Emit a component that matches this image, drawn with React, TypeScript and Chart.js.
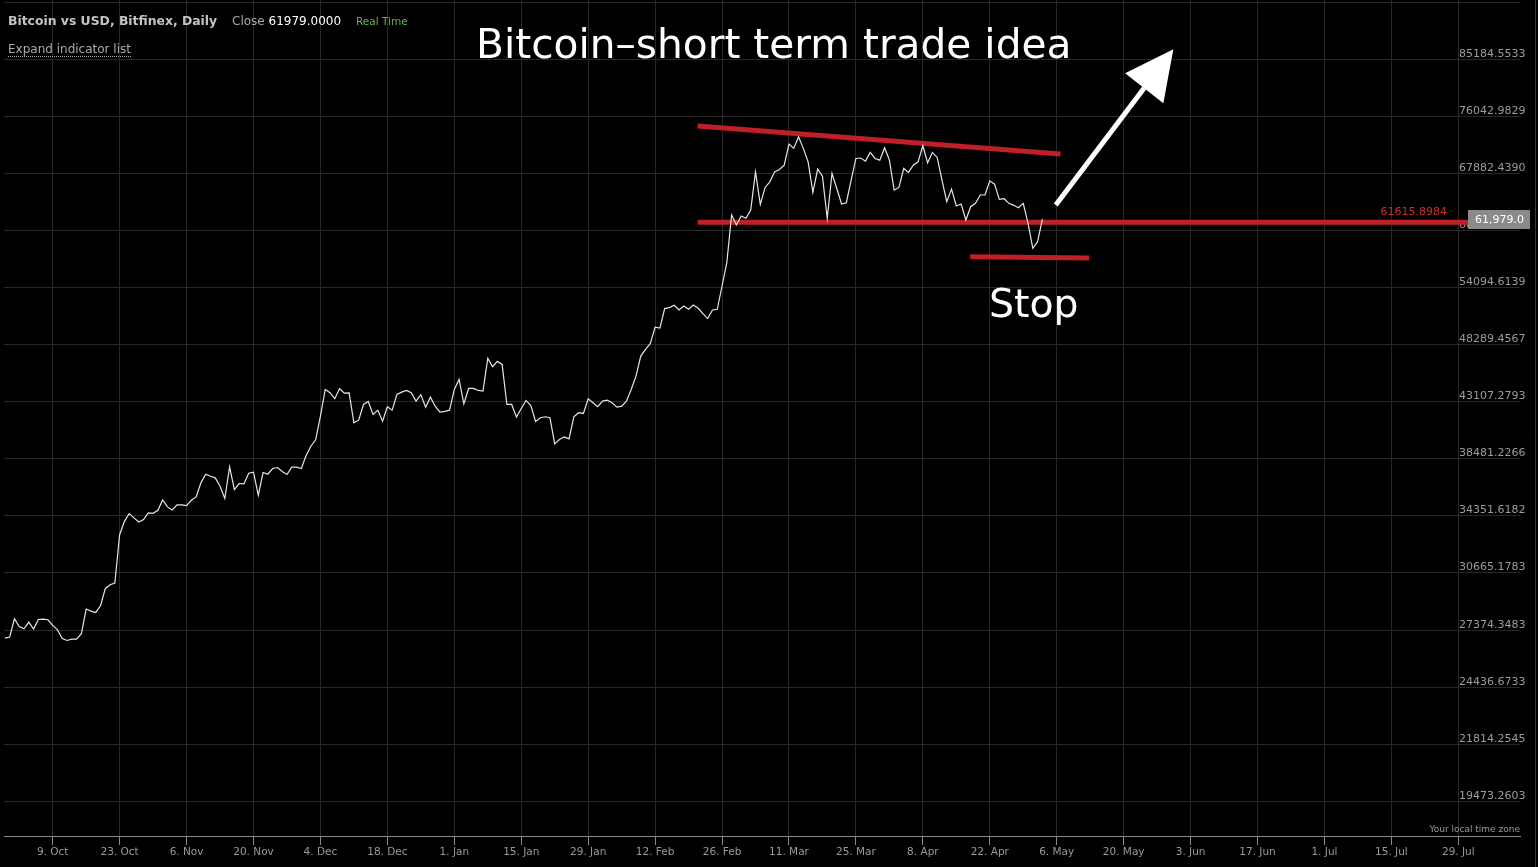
import React, { useEffect, useRef } from 'react';
import { Chart, registerables } from 'chart.js';

Chart.register(...registerables);

// ---- DATA -----------------------------------------------------------
// Bitcoin vs USD (Bitfinex) daily closes, first close on 29 Sep 2023
const startDate = '2023-09-29';
const closes: number[] = [
  26942, 26995, 27996, 27571, 27445, 27813, 27428, 27957, 27979, 27941,
  27626, 27390, 26920, 26814, 26888, 26888, 27173, 28542, 28428, 28349,
  28730, 29722, 29960, 30061, 33092, 33984, 34508, 34214, 33943, 34098,
  34556, 34529, 34736, 35462, 34971, 34764, 35111, 35111, 35061, 35434,
  35674, 36686, 37320, 37172, 37054, 36440, 35558, 37874, 36203, 36637,
  36615, 37394, 37469, 35792, 37447, 37320, 37746, 37821, 37521, 37298,
  37845, 37845, 37746, 38734, 39458, 39963, 41890, 44174, 43886, 43366,
  44236, 43851, 43880, 41343, 41558, 42876, 43133, 42032, 42393, 41475,
  42680, 42393, 43737, 43938, 44087, 43880, 43159, 43711, 42647, 43503,
  42731, 42225, 42284, 42393, 44174, 45063, 42935, 44263, 44263, 44087,
  44028, 46991, 46222, 46712, 46434, 42876, 42876, 41807, 42536, 43219,
  42790, 41451, 41757, 41840, 41757, 39646, 39987, 40202, 40042, 41840,
  42174, 42115, 43366, 43021, 42680, 43159, 43245, 43021, 42647, 42731,
  43159, 44174, 45365, 47206, 47840, 48415, 50009, 49910, 51880, 51985,
  52223, 51737, 52150, 51809, 52254, 51913, 51369, 50860, 51737, 51809,
  54267, 56851, 62495, 61265, 62371, 62086, 63120, 68100, 63840, 66018,
  66757, 68099, 68423, 69012, 71969, 71356, 73019, 71356, 69467, 65364,
  68468, 67518, 62086, 67882, 65887, 63876, 64042, 66983, 69937, 70000,
  69563, 70777, 69937, 69702, 71439, 69702, 65665, 66018, 68562, 68017,
  69012, 69467, 71725, 69329, 70777, 70077, 66983, 64171, 65796, 63624,
  63876, 61877, 63535, 63966, 65032, 65032, 66890, 66452, 64476, 64553,
  63966, 63711, 63409, 63966, 61472, 58490, 59263, 61979,
];

const xTickDates = [
  '2023-10-09', '2023-10-23', '2023-11-06', '2023-11-20', '2023-12-04', '2023-12-18',
  '2024-01-01', '2024-01-15', '2024-01-29', '2024-02-12', '2024-02-26', '2024-03-11',
  '2024-03-25', '2024-04-08', '2024-04-22', '2024-05-06', '2024-05-20', '2024-06-03',
  '2024-06-17', '2024-07-01', '2024-07-15', '2024-07-29',
];
const xTickLabels = [
  '9. Oct', '23. Oct', '6. Nov', '20. Nov', '4. Dec', '18. Dec', '1. Jan', '15. Jan',
  '29. Jan', '12. Feb', '26. Feb', '11. Mar', '25. Mar', '8. Apr', '22. Apr', '6. May',
  '20. May', '3. Jun', '17. Jun', '1. Jul', '15. Jul', '29. Jul',
];

const yTickValues = [
  95425.59, 85184.5533, 76042.9829, 67882.439, 60597.6415, 54094.6139, 48289.4567,
  43107.2793, 38481.2266, 34351.6182, 30665.1783, 27374.3483, 24436.6733, 21814.2545,
  19473.2603,
];
const yTickLabels = [
  '', '85184.5533', '76042.9829', '67882.4390', '60597.6415', '54094.6139', '48289.4567',
  '43107.2793', '38481.2266', '34351.6182', '30665.1783', '27374.3483', '24436.6733',
  '21814.2545', '19473.2603',
];

const lastClose = 61979.0;
const supportLevel = 61615.8984;

// drawn annotations, in (days since startDate, price)
const supportSpan = [144.9, 306.0];
const resistanceLine = [
  { x: 144.9, y: 74600 },
  { x: 220.8, y: 70560 },
];
const stopLine = [
  { x: 201.9, y: 57520 },
  { x: 226.8, y: 57370 },
];
const arrowShaft = [
  { x: 219.8, y: 63750 },
  { x: 238.3, y: 80460 },
];
const arrowHead = [
  { x: 234.3, y: 82845 },
  { x: 244.4, y: 86900 },
  { x: 242.3, y: 78050 },
];

// ---------------------------------------------------------------------
const DAY = 86400000;
const dayOf = (iso: string) =>
  Math.round((Date.parse(iso + 'T00:00:00Z') - Date.parse(startDate + 'T00:00:00Z')) / DAY);
const xTickDays = xTickDates.map(dayOf);

const FONT = '"DejaVu Sans", "Noto Sans", sans-serif';
const RED = '#bf1f26';

const overlayPlugin = {
  id: 'overlay',
  beforeDatasetsDraw(chart: any) {
    const { ctx, scales } = chart;
    const y = scales.y;
    ctx.save();
    ctx.font = `11px ${FONT}`;
    ctx.fillStyle = '#9c9c9c';
    ctx.textAlign = 'left';
    ctx.textBaseline = 'alphabetic';
    yTickValues.forEach((v, i) => {
      const label = yTickLabels[i];
      if (!label) return;
      ctx.fillText(label, 1459, y.getPixelForValue(v) - 2.5);
    });
    ctx.restore();
  },
  afterDatasetsDraw(chart: any) {
    const { ctx, scales } = chart;
    const x = scales.x;
    const y = scales.y;
    ctx.save();
    // arrow head
    ctx.fillStyle = '#ffffff';
    ctx.beginPath();
    arrowHead.forEach((p, i) => {
      const px = x.getPixelForValue(p.x);
      const py = y.getPixelForValue(p.y);
      if (i === 0) ctx.moveTo(px, py);
      else ctx.lineTo(px, py);
    });
    ctx.closePath();
    ctx.fill();

    // support level label
    const sy = y.getPixelForValue(supportLevel);
    ctx.font = `11px ${FONT}`;
    ctx.fillStyle = '#d02a30';
    ctx.textAlign = 'right';
    ctx.textBaseline = 'alphabetic';
    ctx.fillText(supportLevel.toFixed(4), 1447, sy - 6.7);

    // last price tag
    const ly = y.getPixelForValue(lastClose);
    ctx.fillStyle = '#8a8a8a';
    ctx.fillRect(1468, Math.round(ly - 9.5), 62, 19);
    ctx.fillStyle = '#ffffff';
    ctx.textAlign = 'left';
    ctx.font = `11px ${FONT}`;
    ctx.fillText(
      lastClose.toLocaleString('en-US', { minimumFractionDigits: 1, maximumFractionDigits: 1 }),
      1475,
      ly + 3.8
    );

    // right frame line
    ctx.strokeStyle = '#3a3a3a';
    ctx.lineWidth = 1;
    ctx.beginPath();
    ctx.moveTo(1535.5, 0);
    ctx.lineTo(1535.5, 867);
    ctx.stroke();
    ctx.restore();
  },
};

export default function App() {
  const ref = useRef<HTMLCanvasElement | null>(null);

  useEffect(() => {
    if (!ref.current) return;
    const lineCommon = {
      pointRadius: 0,
      pointHoverRadius: 0,
      fill: false,
      tension: 0,
      borderCapStyle: 'butt' as const,
    };
    const chart = new Chart(ref.current, {
      type: 'line',
      data: {
        datasets: [
          {
            label: 'Close',
            data: closes.map((c, i) => ({ x: i, y: c })),
            borderColor: '#e6e6e6',
            borderWidth: 1.2,
            ...lineCommon,
          },
          {
            label: 'Resistance',
            data: resistanceLine,
            borderColor: RED,
            borderWidth: 5,
            ...lineCommon,
          },
          {
            label: 'Support',
            data: [
              { x: supportSpan[0], y: supportLevel },
              { x: supportSpan[1], y: supportLevel },
            ],
            borderColor: RED,
            borderWidth: 5,
            ...lineCommon,
          },
          {
            label: 'Stop',
            data: stopLine,
            borderColor: RED,
            borderWidth: 5,
            ...lineCommon,
          },
          {
            label: 'Arrow',
            data: arrowShaft,
            borderColor: '#ffffff',
            borderWidth: 5,
            ...lineCommon,
          },
        ],
      },
      options: {
        responsive: false,
        animation: false,
        events: [],
        layout: { padding: { left: 4, right: 18, top: 0, bottom: 0 } },
        plugins: {
          legend: { display: false },
          tooltip: { enabled: false },
        },
        scales: {
          x: {
            type: 'linear',
            min: -0.186,
            max: 316.9,
            afterBuildTicks: (s: any) => {
              s.ticks = xTickDays.map((v) => ({ value: v }));
            },
            afterFit: (s: any) => {
              s.height = 31;
            },
            grid: {
              color: '#282828',
              lineWidth: 1,
              drawTicks: true,
              tickLength: 9,
              tickColor: '#8a8a8a',
            },
            border: { display: true, color: '#8a8a8a', width: 1 },
            ticks: {
              autoSkip: false,
              maxRotation: 0,
              minRotation: 0,
              padding: 1,
              color: '#999999',
              font: { family: FONT, size: 10.5 },
              callback: (_v: any, i: number) => xTickLabels[i] ?? '',
            },
          },
          y: {
            type: 'logarithmic',
            position: 'right',
            min: 18174,
            max: 95847,
            afterBuildTicks: (s: any) => {
              s.ticks = yTickValues.map((v) => ({ value: v }));
            },
            afterFit: (s: any) => {
              s.width = 0;
            },
            grid: { color: '#282828', lineWidth: 1, drawTicks: false },
            border: { display: false },
            ticks: { display: false },
          },
        },
      } as any,
      plugins: [overlayPlugin],
    });
    return () => chart.destroy();
  }, []);

  return (
    <div
      style={{
        position: 'fixed',
        left: 0,
        top: 0,
        width: 1538,
        height: 867,
        background: '#000',
        overflow: 'hidden',
        fontFamily: FONT,
      }}
    >
      <canvas
        ref={ref}
        width={1538}
        height={867}
        style={{ position: 'absolute', left: 0, top: 0, width: 1538, height: 867 }}
      />
      <div
        style={{
          position: 'absolute',
          left: 8,
          top: 14.6,
          fontSize: 12.4,
          lineHeight: 1,
          fontWeight: 'bold',
          color: '#c4c4c4',
          whiteSpace: 'nowrap',
        }}
      >
        Bitcoin vs USD, Bitfinex, Daily
      </div>
      <div
        style={{
          position: 'absolute',
          left: 232,
          top: 14.8,
          fontSize: 12,
          lineHeight: 1,
          color: '#a8a8a8',
          whiteSpace: 'nowrap',
        }}
      >
        Close <span style={{ color: '#ffffff' }}>61979.0000</span>
      </div>
      <div
        style={{
          position: 'absolute',
          left: 356,
          top: 16.1,
          fontSize: 10.5,
          lineHeight: 1,
          color: '#62b34c',
          whiteSpace: 'nowrap',
        }}
      >
        Real Time
      </div>
      <div
        style={{
          position: 'absolute',
          left: 8,
          top: 42.5,
          fontSize: 12,
          lineHeight: 1,
          color: '#aaaaaa',
          whiteSpace: 'nowrap',
          paddingBottom: 1,
          borderBottom: '1px dotted #aaaaaa',
        }}
      >
        Expand indicator list
      </div>
      <div
        style={{
          position: 'absolute',
          left: 476,
          top: 24,
          fontSize: 40.7,
          lineHeight: 1,
          color: '#ffffff',
          whiteSpace: 'nowrap',
        }}
      >
        Bitcoin–short term trade idea
      </div>
      <div
        style={{
          position: 'absolute',
          left: 989,
          top: 283.5,
          fontSize: 39.4,
          lineHeight: 1,
          color: '#ffffff',
          whiteSpace: 'nowrap',
        }}
      >
        Stop
      </div>
      <div
        style={{
          position: 'absolute',
          right: 18,
          top: 825.1,
          fontSize: 9,
          lineHeight: 1,
          color: '#9a9a9a',
          whiteSpace: 'nowrap',
        }}
      >
        Your local time zone
      </div>
    </div>
  );
}
